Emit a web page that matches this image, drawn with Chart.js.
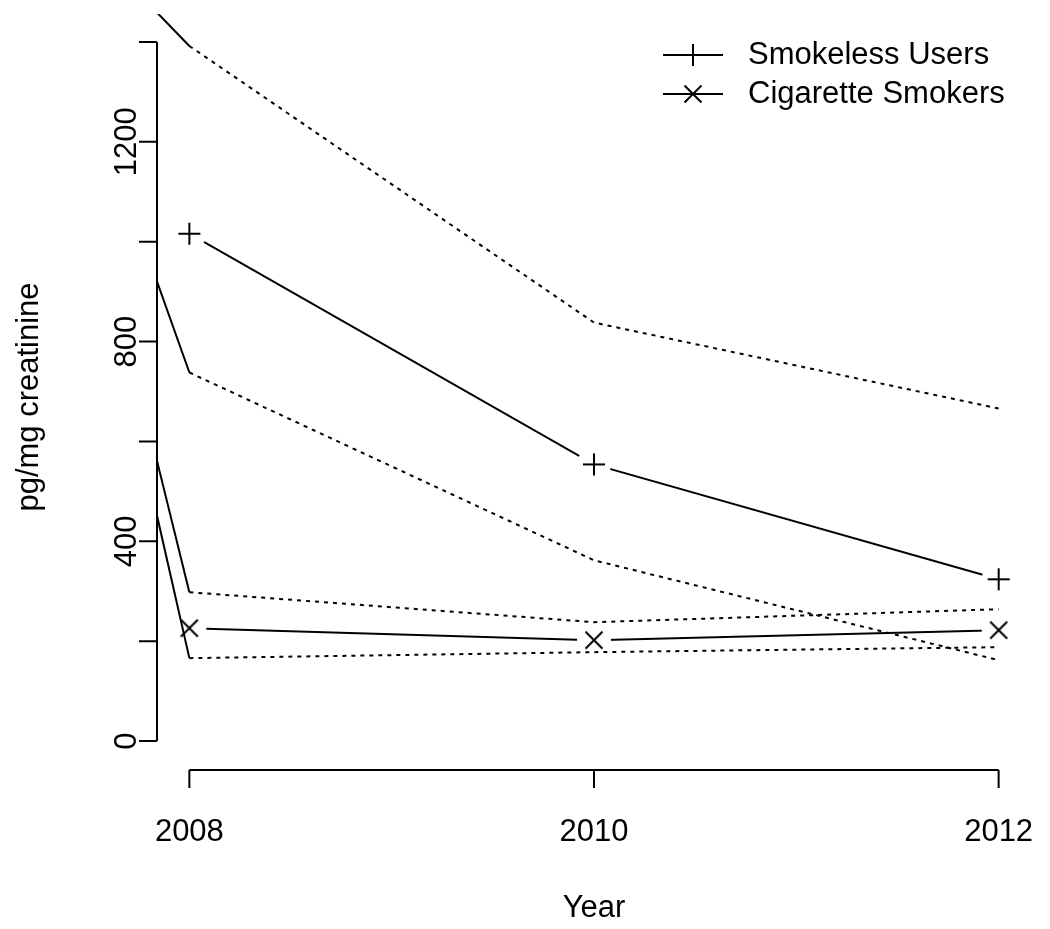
<!DOCTYPE html>
<html>
<head>
<meta charset="utf-8">
<script src="https://cdn.jsdelivr.net/npm/chart.js@4/dist/chart.umd.min.js"></script>
<style>
  html, body { margin: 0; padding: 0; background: #fff; }
  canvas { display: block; }
</style>
</head>
<body>
<canvas id="myChart" width="1050" height="929"></canvas>
<script>
// years for the mean points, and for the interval lines (which start before 2008)
const years = [2008, 2010, 2012];
const ciYears = [2007, 2008, 2010, 2012];

const smokelessMean = [1016, 554, 324];
const smokelessUpper = [1810, 1392, 838, 666];
const smokelessLower = [1877, 738, 362, 162];

const cigaretteMean = [226, 202, 222];
const cigaretteUpper = [1943, 298, 238, 264];
const cigaretteLower = [1950, 166, 178, 188];

const seriesNames = ['Smokeless Users', 'Cigarette Smokers'];
const xTicks = [2008, 2010, 2012];
const xTickLabels = ['2008', '2010', '2012'];
const yTicks = [0, 200, 400, 600, 800, 1000, 1200, 1400];
const yTickLabels = ['0', '', '400', '', '800', '', '1200', ''];
const xTitle = 'Year';
const yTitle = 'pg/mg creatinine';

const FONT = '31px "Liberation Sans", Arial, sans-serif';

// marker image: white disc (gives the R type="b" gap) plus the symbol
function makeMarker(kind) {
    const c = document.createElement('canvas');
    c.width = 40;
    c.height = 40;
    const g = c.getContext('2d');
    g.fillStyle = '#fff';
    g.beginPath();
    g.arc(20, 20, 17, 0, Math.PI * 2);
    g.fill();
    g.strokeStyle = '#000';
    g.lineWidth = 2;
    g.beginPath();
    if (kind === 'plus') {
        g.moveTo(9, 20); g.lineTo(31, 20);
        g.moveTo(20, 9); g.lineTo(20, 31);
    } else {
        g.moveTo(11.5, 11.5); g.lineTo(28.5, 28.5);
        g.moveTo(28.5, 11.5); g.lineTo(11.5, 28.5);
    }
    g.stroke();
    return c;
}

function drawSymbol(ctx, kind, x, y) {
    ctx.beginPath();
    if (kind === 'plus') {
        ctx.moveTo(x - 11, y); ctx.lineTo(x + 11, y);
        ctx.moveTo(x, y - 11); ctx.lineTo(x, y + 11);
    } else {
        ctx.moveTo(x - 8.5, y - 8.5); ctx.lineTo(x + 8.5, y + 8.5);
        ctx.moveTo(x + 8.5, y - 8.5); ctx.lineTo(x - 8.5, y + 8.5);
    }
    ctx.stroke();
}

const toPoints = (xs, ys) => xs.map((x, i) => ({ x: x, y: ys[i] }));

const meanStyle = (kind) => ({
    borderColor: '#000',
    borderWidth: 2,
    pointStyle: makeMarker(kind),
    pointRadius: 12,
    order: 1
});

const ciStyle = {
    borderColor: '#000',
    borderWidth: 2,
    pointRadius: 0,
    borderCapStyle: 'butt',
    segment: {
        // first piece (before 2008) is solid, the rest dotted
        borderDash: ctx => ctx.p0DataIndex === 0 ? [] : [4, 5]
    },
    order: 0
};

// R-style axes, titles and legend
const rAxes = {
    id: 'rAxes',
    afterDraw(chart) {
        const ctx = chart.ctx;
        const xs = chart.scales.x;
        const ys = chart.scales.y;
        const area = chart.chartArea;
        ctx.save();
        ctx.strokeStyle = '#000';
        ctx.fillStyle = '#000';
        ctx.lineWidth = 2;
        ctx.font = FONT;

        // y axis
        const yTop = ys.getPixelForValue(yTicks[yTicks.length - 1]);
        const yBot = ys.getPixelForValue(yTicks[0]);
        ctx.beginPath();
        ctx.moveTo(area.left, yTop);
        ctx.lineTo(area.left, yBot);
        yTicks.forEach(v => {
            const p = ys.getPixelForValue(v);
            ctx.moveTo(area.left, p);
            ctx.lineTo(area.left - 18, p);
        });
        ctx.stroke();
        ctx.textAlign = 'center';
        ctx.textBaseline = 'middle';
        yTicks.forEach((v, i) => {
            if (!yTickLabels[i]) return;
            ctx.save();
            ctx.translate(area.left - 30, ys.getPixelForValue(v));
            ctx.rotate(-Math.PI / 2);
            ctx.fillText(yTickLabels[i], 0, 0);
            ctx.restore();
        });

        // x axis
        const xl = xs.getPixelForValue(xTicks[0]);
        const xr = xs.getPixelForValue(xTicks[xTicks.length - 1]);
        ctx.beginPath();
        ctx.moveTo(xl, area.bottom + 1);
        ctx.lineTo(xr, area.bottom + 1);
        xTicks.forEach(v => {
            const p = xs.getPixelForValue(v);
            ctx.moveTo(p, area.bottom + 1);
            ctx.lineTo(p, area.bottom + 19);
        });
        ctx.stroke();
        xTicks.forEach((v, i) => {
            ctx.fillText(xTickLabels[i], xs.getPixelForValue(v), 832);
        });

        // titles
        ctx.fillText(xTitle, (area.left + area.right) / 2, 908);
        ctx.save();
        ctx.translate(29, 397);
        ctx.rotate(-Math.PI / 2);
        ctx.fillText(yTitle, 0, 0);
        ctx.restore();

        // legend
        const rows = [55, 94];
        const kinds = ['plus', 'cross'];
        ctx.textAlign = 'left';
        rows.forEach((y, i) => {
            ctx.beginPath();
            ctx.moveTo(663, y);
            ctx.lineTo(723, y);
            ctx.stroke();
            drawSymbol(ctx, kinds[i], 693, y);
            ctx.fillText(seriesNames[i], 748, y);
        });
        ctx.restore();
    }
};

const ctx = document.getElementById('myChart').getContext('2d');
const myChart = new Chart(ctx, {
    type: 'line',
    data: {
        datasets: [
            Object.assign({ label: seriesNames[0], data: toPoints(years, smokelessMean) }, meanStyle('plus')),
            Object.assign({ label: seriesNames[1], data: toPoints(years, cigaretteMean) }, meanStyle('cross')),
            Object.assign({ label: 'Smokeless upper', data: toPoints(ciYears, smokelessUpper) }, ciStyle),
            Object.assign({ label: 'Smokeless lower', data: toPoints(ciYears, smokelessLower) }, ciStyle),
            Object.assign({ label: 'Cigarette upper', data: toPoints(ciYears, cigaretteUpper) }, ciStyle),
            Object.assign({ label: 'Cigarette lower', data: toPoints(ciYears, cigaretteLower) }, ciStyle)
        ]
    },
    options: {
        responsive: false,
        animation: false,
        devicePixelRatio: 1,
        layout: {
            padding: { left: 157, top: 13, right: 19, bottom: 160 }
        },
        scales: {
            x: { type: 'linear', min: 2007.84, max: 2012.16, display: false },
            y: { type: 'linear', min: -56, max: 1456, display: false }
        },
        plugins: {
            legend: { display: false },
            tooltip: { enabled: false }
        }
    },
    plugins: [rAxes]
});
</script>
</body>
</html>
